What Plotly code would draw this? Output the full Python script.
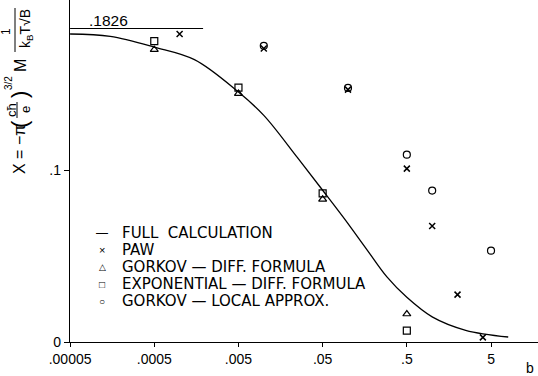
import plotly.graph_objects as go

# ---- data ----
curve_b = [0.00005, 0.00015, 0.0005, 0.0015, 0.005, 0.01, 0.025, 0.05, 0.09, 0.17, 0.29, 0.5, 1.0, 2.5, 8.0]
curve_x = [0.1794, 0.1780, 0.1718, 0.1645, 0.1456, 0.1320, 0.1075, 0.0884, 0.0720, 0.0534, 0.0379, 0.0260, 0.0146, 0.0068, 0.0029]

paw_b = [0.001, 0.01, 0.1, 0.5, 1.0, 2.0, 4.0]
paw_x = [0.1794, 0.1710, 0.1470, 0.1010, 0.0676, 0.0276, 0.0027]

gork_diff_b = [0.0005, 0.005, 0.05, 0.5]
gork_diff_x = [0.1703, 0.1447, 0.0831, 0.0163]

exp_diff_b = [0.0005, 0.005, 0.05, 0.5]
exp_diff_x = [0.1753, 0.1482, 0.0866, 0.0066]

gork_loc_b = [0.01, 0.1, 0.5, 1.0, 5.0]
gork_loc_x = [0.1725, 0.1480, 0.1091, 0.0882, 0.0532]

limit_b = [0.00005, 0.0019]
limit_x = [0.1826, 0.1826]
limit_label = ".1826"

tick_vals = [0.00005, 0.0005, 0.005, 0.05, 0.5, 5]
tick_text = [".00005", ".0005", ".005", ".05", ".5", "5"]
ytick_vals = [0, 0.1]
ytick_text = ["0", ".1"]

legend_names = ["FULL\u00a0\u00a0CALCULATION", "PAW", "GORKOV — DIFF. FORMULA",
                "EXPONENTIAL — DIFF. FORMULA", "GORKOV — LOCAL APPROX."]
legend_glyphs = ["—", "×", "△", "□", "○"]
legend_glyph_sizes = [12, 11, 9, 10, 10]

FONT = "Liberation Sans, Arial, sans-serif"
LFONT = "DejaVu Sans, Liberation Sans, sans-serif"
W, H = 538, 376
ML, MR, MT, MB = 70, 0, 0, 34
PW, PH = W - ML - MR, H - MT - MB

def px(x):
    return (x - ML) / PW

def py(y):
    return (H - MB - y) / PH

fig = go.Figure()
fig.add_trace(go.Scatter(x=curve_b, y=curve_x, mode="lines", line=dict(color="black", width=1.3, shape="spline"),
                         name=legend_names[0]))
fig.add_trace(go.Scatter(x=paw_b, y=paw_x, mode="markers", name=legend_names[1],
                         marker=dict(symbol="x-thin", size=6, line=dict(color="black", width=1.5))))
fig.add_trace(go.Scatter(x=gork_diff_b, y=gork_diff_x, mode="markers", name=legend_names[2],
                         marker=dict(symbol="triangle-up-open", size=7, color="black", line=dict(width=1.2))))
fig.add_trace(go.Scatter(x=exp_diff_b, y=exp_diff_x, mode="markers", name=legend_names[3],
                         marker=dict(symbol="square-open", size=7, color="black", line=dict(width=1.2))))
fig.add_trace(go.Scatter(x=gork_loc_b, y=gork_loc_x, mode="markers", name=legend_names[4],
                         marker=dict(symbol="circle-open", size=7, color="black", line=dict(width=1.2))))
fig.add_trace(go.Scatter(x=limit_b, y=limit_x, mode="lines", line=dict(color="black", width=1.2), showlegend=False))

annotations = [
    dict(x=px(87), y=py(20), text=limit_label, xanchor="left", font=dict(size=15.5)),
    dict(x=px(530), y=py(368), text="b", font=dict(size=14)),
    # y-axis title built from pieces (rotated)
    dict(x=px(19), y=py(150), text="X = −π", textangle=-90, font=dict(size=16)),
    dict(x=px(19), y=py(124), text="(", textangle=-90, font=dict(size=22)),
    dict(x=px(11), y=py(110), text="cħ", textangle=-90, font=dict(size=13)),
    dict(x=px(25), y=py(110), text="e", textangle=-90, font=dict(size=13)),
    dict(x=px(19), y=py(95), text=")", textangle=-90, font=dict(size=22)),
    dict(x=px(8), y=py(83), text="3/2", textangle=-90, font=dict(size=10)),
    dict(x=px(20), y=py(66), text="M", textangle=-90, font=dict(size=16)),
    dict(x=px(6), y=py(32), text="1", textangle=-90, font=dict(size=12)),
    dict(x=px(26), y=py(29), text="k<sub>B</sub>T√B", textangle=-90, font=dict(size=14)),
]
row_y = [233, 250, 267, 284, 301]
for i, (g, n) in enumerate(zip(legend_glyphs, legend_names)):
    annotations.append(dict(x=px(102), y=py(row_y[i]), text=g, font=dict(size=legend_glyph_sizes[i])))
    annotations.append(dict(x=px(120), y=py(row_y[i]), text=n, xanchor="left", font=dict(size=15, family=LFONT)))

for a in annotations:
    a.setdefault("xref", "paper")
    a.setdefault("yref", "paper")
    a.setdefault("showarrow", False)
    a.setdefault("xanchor", "center")
    a.setdefault("yanchor", "middle")

shapes = [
    dict(type="line", xref="paper", yref="paper", x0=px(17), x1=px(17), y0=py(102), y1=py(118),
         line=dict(color="black", width=1)),
    dict(type="line", xref="paper", yref="paper", x0=px(15), x1=px(15), y0=py(8), y1=py(52),
         line=dict(color="black", width=1)),
]

fig.update_layout(
    width=W, height=H,
    margin=dict(l=ML, r=MR, t=MT, b=MB),
    paper_bgcolor="white", plot_bgcolor="white",
    font=dict(family=FONT, size=14, color="black"),
    showlegend=False,
    annotations=annotations,
    shapes=shapes,
    xaxis=dict(type="log", range=[-4.302, 1.257], tickvals=tick_vals, ticktext=tick_text,
               showgrid=False, zeroline=False, showline=True, linecolor="black", linewidth=1.3,
               ticks="outside", ticklen=4, tickcolor="black", tickfont=dict(size=14)),
    yaxis=dict(range=[0, 0.1992], tickvals=ytick_vals, ticktext=ytick_text,
               showgrid=False, zeroline=False, showline=True, linecolor="black", linewidth=1.3,
               ticks="outside", ticklen=5, tickcolor="black", tickfont=dict(size=14)),
)

fig.write_html("out.html")
